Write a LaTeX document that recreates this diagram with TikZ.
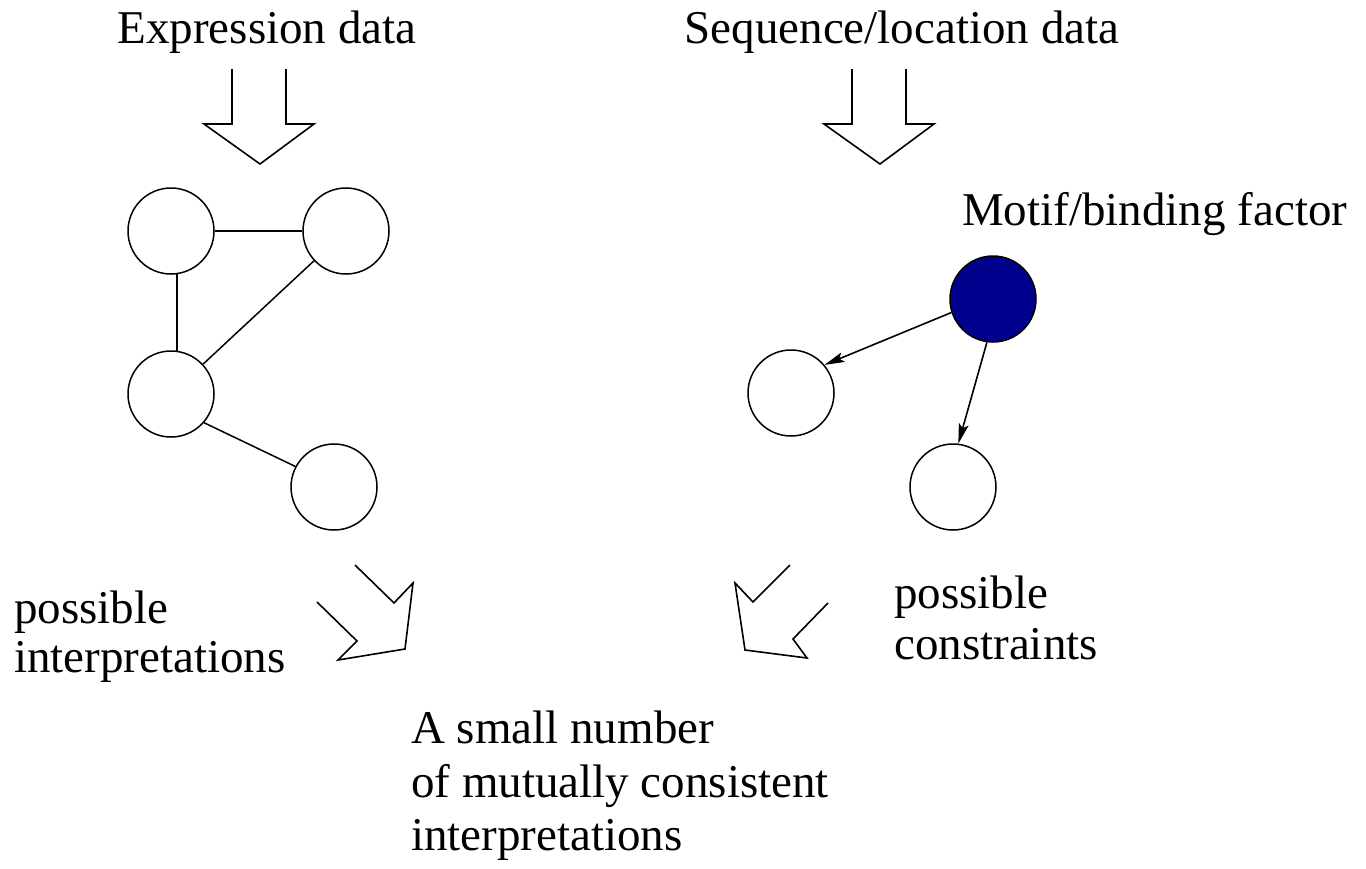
\documentclass[tikz,border=0pt]{standalone}
\usepackage{fontspec}
\setmainfont{Liberation Serif}
\usetikzlibrary{arrows.meta}
\definecolor{motifblue}{RGB}{0,0,140}
\begin{document}
\begin{tikzpicture}[x=1pt,y=-1pt,
  gene/.style={circle,draw,line width=1.5pt,minimum size=86pt,inner sep=0pt},
  motif/.style={gene,fill=motifblue},
  edge/.style={line width=1.5pt},
  reg/.style={line width=1.6pt,-{Stealth[length=20pt,width=10pt,inset=4pt]}},
  blockarrow/.style={line width=1.6pt,line join=miter},
  lbl/.style={anchor=base west,inner sep=0pt,font=\fontsize{47}{52}\selectfont},
  lblc/.style={anchor=base,inner sep=0pt,font=\fontsize{47}{52}\selectfont}]
\useasboundingbox (0,0) rectangle (1366,868);
\fill[white] (0,0) rectangle (1366,868);

% titles
\node[lblc] (t1) at (267,43) {Expression data};
\node[lblc] (t2) at (902,43) {Sequence/location data};

% top block arrows
\draw[blockarrow] (232,69) -- (232,124) -- (204,124) -- (260,164) -- (314,124) -- (286,124) -- (286,69);
\draw[blockarrow] (852,69) -- (852,124) -- (824,124) -- (880,164) -- (934,124) -- (906,124) -- (906,69);

% left graph
\node[gene] (A) at (171,231) {};
\node[gene] (B) at (346,231) {};
\node[gene] (C) at (171,394) {};
\node[gene] (D) at (334,487) {};
\draw[edge] (A.east) -- (B.west);
\draw[edge] (A.-82) -- (C.82);
\draw[edge] (B) -- (C);
\draw[edge] (C.-41) -- (D.152);

% right graph
\node[lbl] (mlabel) at (962,225) {Motif/binding factor};
\node[motif] (M) at (993,299) {};
\node[gene] (E) at (791,393) {};
\node[gene] (F) at (953,487) {};
\draw[reg] (M.198) -- (E.40);
\draw[reg] (M.262) -- (F.83);

% bottom block arrows
\draw[blockarrow] (355,565) -- (394,603) -- (413,583) -- (405,649) -- (338,660) -- (357,641) -- (317,602);
\draw[blockarrow] (790,565) -- (753,602) -- (735,583) -- (745,650) -- (807,658) -- (793,639) -- (828,603);

% labels
\node[lbl] (p1a) at (14,623) {possible};
\node[lbl] (p1b) at (14,672) {interpretations};
\node[lbl] (p2a) at (894,608) {possible};
\node[lbl] (p2b) at (894,659) {constraints};
\node[lbl] (r1) at (411,743) {A small number};
\node[lbl] (r2) at (411,797) {of mutually consistent};
\node[lbl] (r3) at (411,850) {interpretations};
\end{tikzpicture}
\end{document}
